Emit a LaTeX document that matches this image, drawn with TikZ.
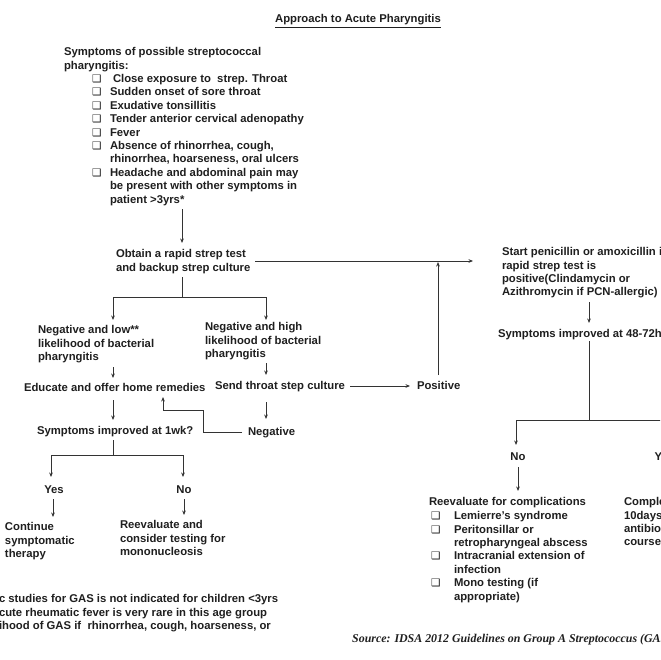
\documentclass[tikz,border=0pt]{standalone}
\usepackage{fontspec}
\setmainfont{Liberation Sans}
\newfontfamily\dvfont{DejaVu Sans}
\newfontfamily\srcfont{Liberation Serif}
\usetikzlibrary{arrows.meta}
\newcommand\chkbox{{\dvfont\fontsize{10.5}{10.5}\selectfont ❑}}
\newcommand\itm[1]{\makebox[18pt][l]{\chkbox}#1}
\newcommand\itmb[1]{\makebox[23pt][l]{\chkbox}#1}
\begin{document}
\begin{tikzpicture}[x=1pt,y=-1pt,
  txt/.style={inner sep=0pt, outer sep=0pt, align=left, anchor=north west,
    font=\bfseries\fontsize{11.3}{13.4}\selectfont, text=black!88},
  lbl/.style={inner sep=0pt, outer sep=0pt, anchor=base,
    font=\bfseries\fontsize{11.3}{13.4}\selectfont, text=black!88},
  ln/.style={line width=0.9pt, draw=black!80},
  arr/.style={ln, -{Stealth[length=4.5pt,width=3.6pt]}}]
\path[use as bounding box] (0,0) rectangle (660,660);
\clip (0,0) rectangle (660,660);
\fill[white] (0,0) rectangle (660,660);

% title
\node[lbl] (title) at (358,23) {\underline{Approach to Acute Pharyngitis}};

% symptoms
\node[txt] (symhead) at (64,47.5) {Symptoms of possible streptococcal\\pharyngitis:};
\node[txt] (symlist) at (92,74.3) {\itm{\hspace{3pt}Close exposure to\ \ strep. Throat}\\
\itm{Sudden onset of sore throat}\\
\itm{Exudative tonsillitis}\\
\itm{Tender anterior cervical adenopathy}\\
\itm{Fever}\\
\itm{Absence of rhinorrhea, cough,}\\
\hspace*{18pt}rhinorrhea, hoarseness, oral ulcers\\
\itm{Headache and abdominal pain may}\\
\hspace*{18pt}be present with other symptoms in\\
\hspace*{18pt}patient >3yrs*};

\coordinate (a1s) at (182,209);
\coordinate (a1e) at (182,243);
\draw[arr] (a1s) -- (a1e);

% obtain
\node[txt] (obtain) at (116,249.5) {Obtain a rapid strep test\\and backup strep culture};
\coordinate (obr) at (255,261);
\coordinate (startin) at (473,261);
\draw[arr] (obr) -- (startin);

\coordinate (obs) at (182,277);
\coordinate (split1) at (182,297);
\coordinate (nlin) at (113,320);
\coordinate (nhin) at (266,320);
\draw[ln] (obs) -- (split1);
\draw[arr] (split1) -| (nlin);
\draw[arr] (split1) -| (nhin);

\node[txt] (neglow) at (38,325.5) {Negative and low**\\likelihood of bacterial\\pharyngitis};
\node[txt] (neghigh) at (205,322.5) {Negative and high\\likelihood of bacterial\\pharyngitis};

\coordinate (nlo) at (113,367);
\coordinate (edin) at (113,378);
\draw[arr] (nlo) -- (edin);
\coordinate (nho) at (266,363);
\coordinate (sdin) at (266,375);
\draw[arr] (nho) -- (sdin);

\node[txt] (educate) at (24,383.5) {Educate and offer home remedies};
\node[txt] (send) at (215,381.5) {Send throat step culture};
\node[txt] (positive) at (417,381.5) {Positive};

\coordinate (sdr) at (350,386);
\coordinate (posin) at (410,386);
\draw[arr] (sdr) -- (posin);
\coordinate (posup) at (438,375);
\coordinate (posend) at (438,262);
\draw[arr] (posup) -- (posend);

\coordinate (edo) at (113,400);
\coordinate (wkin) at (113,420);
\draw[arr] (edo) -- (wkin);
\coordinate (sdo) at (266,402);
\coordinate (ngin) at (266,419);
\draw[arr] (sdo) -- (ngin);

\node[txt] (symwk) at (37,426.5) {Symptoms improved at 1wk?};
\node[txt] (negative) at (248,427.5) {Negative};

\coordinate (ngl) at (242,432);
\coordinate (edret) at (163,397);
\draw[arr] (ngl) -- (203,432) -- (203,410) -- (163,410) -- (edret);

\coordinate (wko) at (113,440);
\coordinate (split2) at (113,455);
\coordinate (yesin) at (51,477);
\coordinate (noin) at (183,477);
\draw[ln] (wko) -- (split2);
\draw[arr] (split2) -| (yesin);
\draw[arr] (split2) -| (noin);

\node[lbl] (yes1) at (54,493) {Yes};
\node[lbl] (no1) at (184,493) {No};

\coordinate (y1o) at (53,499);
\coordinate (contin) at (53,517);
\draw[arr] (y1o) -- (contin);
\coordinate (n1o) at (184,499);
\coordinate (re1in) at (184,515);
\draw[arr] (n1o) -- (re1in);

\node[txt] (continue) at (5,522.5) {Continue\\symptomatic\\therapy};
\node[txt] (reeval1) at (120,520.5) {Reevaluate and\\consider testing for\\mononucleosis};

% footnotes
\node[txt] (foot) at (-1,594.5) {c studies for GAS is not indicated for children <3yrs\\cute rheumatic fever is very rare in this age group\\ihood of GAS if\ \ rhinorrhea, cough, hoarseness, or};

% right side
\node[txt] (start) at (502,247.5) {Start penicillin or amoxicillin if\\rapid strep test is\\positive(Clindamycin or\\Azithromycin if PCN-allergic)};
\coordinate (sto) at (589,302);
\coordinate (s48in) at (589,323);
\draw[arr] (sto) -- (s48in);

\node[txt] (sym48) at (498,329.5) {Symptoms improved at 48-72hrs?};
\coordinate (s48o) at (589,341);
\coordinate (split3) at (589,420);
\coordinate (no2in) at (516,445);
\coordinate (yes2br) at (700,420);
\draw[ln] (s48o) -- (split3);
\draw[arr] (split3) -| (no2in);
\draw[ln] (split3) -- (yes2br);

\node[lbl] (no2) at (518,460) {No};
\node[lbl, anchor=base west] (yes2) at (654.5,460) {Yes};

\coordinate (n2o) at (518,467);
\coordinate (re2in) at (518,491);
\draw[arr] (n2o) -- (re2in);

\node[txt] (reeval2) at (429,497.5) {Reevaluate for complications};
\node[txt] (complist) at (431,511.5) {\itmb{Lemierre's syndrome}\\
\itmb{Peritonsillar or}\\
\hspace*{23pt}retropharyngeal abscess\\
\itmb{Intracranial extension of}\\
\hspace*{23pt}infection\\
\itmb{Mono testing (if}\\
\hspace*{23pt}appropriate)};

\node[txt] (complete) at (624,497.5) {Complete\\10days\\antibiotic\\course};

\node[inner sep=0pt, anchor=base west, text=black!88,
  font=\srcfont\bfseries\itshape\fontsize{11.9}{13}\selectfont] (source) at (352,642)
  {Source: IDSA 2012 Guidelines on Group A Streptococcus (GAS)};
\end{tikzpicture}
\end{document}
